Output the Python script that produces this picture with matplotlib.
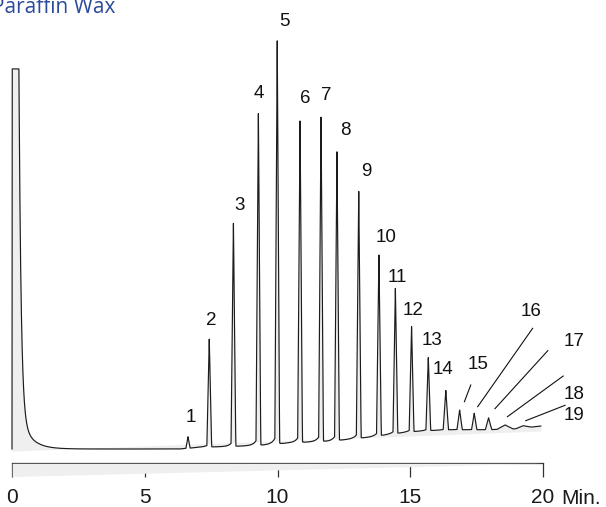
import numpy as np
import matplotlib
matplotlib.use("Agg")
import matplotlib.pyplot as plt

# retention time (min) and height above the local baseline for each numbered peak
peak_ids = [str(i) for i in range(1, 20)]
peak_times = [6.63, 7.43, 8.34, 9.28, 9.99, 10.85, 11.64, 12.24, 13.06, 13.82,
              14.44, 15.05, 15.68, 16.34, 16.86, 17.41, 17.95, 18.57, 19.25]
peak_heights = [2.8, 26.3, 54.4, 80.9, 98.3, 78.4, 79.1, 70.4, 60.2, 44.1,
                35.4, 25.6, 17.8, 9.6, 4.8, 4.0, 2.9, 1.0, 0.6]
peak_halfwidths = [0.08, 0.09, 0.09, 0.09, 0.09, 0.09, 0.09, 0.09, 0.09, 0.09,
                   0.09, 0.09, 0.09, 0.1, 0.1, 0.1, 0.12, 0.3, 0.3]

# drifting baseline read along the valleys
base_t = [0.0, 6.33, 7.08, 8.21, 9.34, 10.47, 11.22, 11.98, 12.73, 13.48,
          14.24, 14.99, 15.74, 16.5, 17.25, 18.0, 18.6, 19.0, 19.5, 19.92]
base_y = [0.0, 0.0, 0.45, 0.6, 0.9, 1.5, 1.7, 1.9, 2.4, 2.9,
          3.6, 4.2, 4.5, 4.7, 4.7, 4.7, 4.9, 4.9, 5.3, 5.6]

# solvent front: clipped plateau then two-stage decay
solvent_top = 92.7
solvent_end = 0.26
solvent_fast = (85.0, 0.08)
solvent_slow = (8.5, 0.4)

# label anchor positions (time, signal)
label_x = [6.74, 7.52, 8.56, 9.31, 10.28, 11.04, 11.85, 12.55, 13.33, 14.09,
           14.51, 15.11, 15.81, 16.24, 17.54, 19.54, 21.17, 21.17, 21.17]
label_y = [7.8, 31.3, 59.3, 86.8, 104.2, 85.4, 86.3, 77.6, 67.6, 51.7,
           41.9, 33.9, 26.4, 19.5, 20.7, 33.5, 26.2, 13.3, 8.1]

# leader lines for the small late peaks: (x0, y0, x1, y1)
leaders = [
    (17.28, 15.61, 17.04, 11.54),
    (19.61, 29.44, 17.54, 10.32),
    (20.18, 23.98, 18.19, 9.83),
    (20.76, 17.80, 18.66, 7.88),
    (20.83, 10.66, 19.35, 6.90),
]

x_ticks = [0, 5, 10, 15, 20]
t_end = 19.92

t = np.arange(0.0, t_end, 0.002)
signal = np.interp(t, base_t, base_y)

# solvent peak
rise = np.clip(t / 0.015, 0, 1)
decay = (solvent_fast[0] * np.exp(-(t - solvent_end) / solvent_fast[1])
         + solvent_slow[0] * np.exp(-(t - solvent_end) / solvent_slow[1]))
solvent = np.where(t < solvent_end, 200.0, decay) * rise
signal += np.minimum(solvent, solvent_top)

# sample peaks: sharp triangles with a leading foot
for t0, h, hw in zip(peak_times, peak_heights, peak_halfwidths):
    foot = 0.03 * h
    tri = (h - foot) * np.clip(1 - np.abs(t - t0) / hw, 0, None)
    front = np.where(t <= t0, foot * np.exp((t - t0) / 0.12), foot * np.exp(-(t - t0) / 0.03))
    signal += tri + front

fig = plt.figure(figsize=(6.06, 5.07), dpi=100)
ax = fig.add_axes([0, 0, 1, 1])
px_per_min = 26.55
px_per_unit = 4.1
ax.set_xlim(-12 / px_per_min, (606 - 12) / px_per_min)
ax.set_ylim(-58 / px_per_unit, 449 / px_per_unit)

# light band under the trace
band = np.interp(t, [0, t_end], [-0.49, 4.39])
ax.fill_between(t, signal, band, color="#efefef", lw=0, zorder=1)
ax.plot(t, signal, color="#1c1c1c", lw=0.85, zorder=4)

lab_font = dict(family=["Liberation Sans", "DejaVu Sans"], fontsize=13.5, color="#111111")
for name, lx, ly in zip(peak_ids, label_x, label_y):
    ax.text(lx, ly, name, ha="center", va="center", zorder=5, **lab_font)
for x0, y0, x1, y1 in leaders:
    ax.plot([x0, x1], [y0, y1], color="#111111", lw=0.8, zorder=5)

# time axis
for side in ["top", "left", "right"]:
    ax.spines[side].set_visible(False)
ax.spines["bottom"].set_position(("data", -14 / px_per_unit))
ax.spines["bottom"].set_bounds(0, 20)
ax.spines["bottom"].set_color("#333333")
ax.spines["bottom"].set_linewidth(0.9)
ax.set_yticks([])
ax.set_xticks(x_ticks)
ax.set_xticklabels([str(v) for v in x_ticks])
ax.tick_params(axis="x", direction="out", length=10, width=0.9, color="#333333",
               pad=8, labelsize=15, labelcolor="#1a1a1a")
for lab in ax.get_xticklabels():
    lab.set_family(["Liberation Sans", "DejaVu Sans"])

wedge_x = [0.7 / px_per_min, 20.0, 0.7 / px_per_min]
wedge_y = [-14.8 / px_per_unit, -14.8 / px_per_unit, -28 / px_per_unit]
ax.fill(wedge_x, wedge_y, color="#efefef", lw=0, zorder=3)

ax.text(549 / px_per_min, -54.6 / px_per_unit, "Min.", ha="left", va="baseline",
        fontsize=15, color="#1a1a1a", family=["Liberation Sans", "DejaVu Sans"])

fig.text(115 / 606, 1 - 12.7 / 507, "Paraffin Wax", ha="right", va="baseline",
         fontsize=15, color="#2c4a9c", family=["Open Sans", "DejaVu Sans"])

fig.savefig("out.png", dpi=100)
